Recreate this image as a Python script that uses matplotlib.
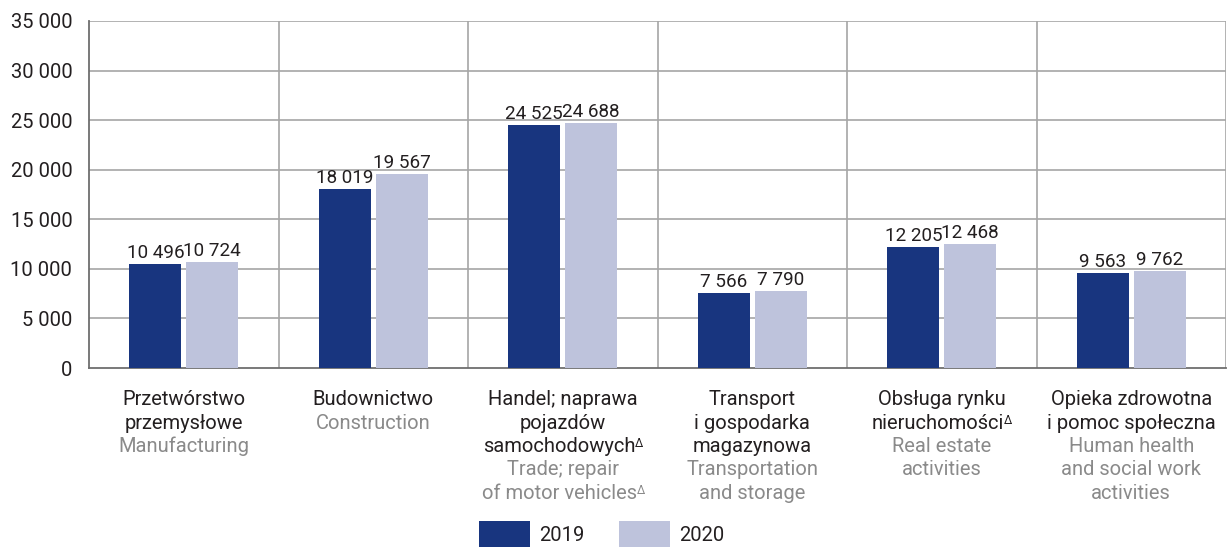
import matplotlib
matplotlib.use("Agg")
import matplotlib.pyplot as plt
import numpy as np

plt.rcParams['font.family'] = ['Roboto', 'DejaVu Sans']

# "*" marks a line that ends with a small superscript delta
labels_pl = [
    ["Przetwórstwo", "przemysłowe"],
    ["Budownictwo"],
    ["Handel; naprawa", "pojazdów", "samochodowych*"],
    ["Transport", "i gospodarka", "magazynowa"],
    ["Obsługa rynku", "nieruchomości*"],
    ["Opieka zdrowotna", "i pomoc społeczna"],
]
labels_en = [
    ["Manufacturing"],
    ["Construction"],
    ["Trade; repair", "of motor vehicles*"],
    ["Transportation", "and storage"],
    ["Real estate", "activities"],
    ["Human health", "and social work", "activities"],
]
values_2019 = [10496, 18019, 24525, 7566, 12205, 9563]
values_2020 = [10724, 19567, 24688, 7790, 12468, 9762]
years = ["2019", "2020"]

c2019 = "#18357f"
c2020 = "#bec3dc"
txt = "#231f20"
gray_txt = "#8a8a8a"
grid_c = "#a6a6a6"
fs = 14.5


def fmt(v):
    return f"{v:,}".replace(",", " ")


fig = plt.figure(figsize=(12.28, 5.47), dpi=100)
ax = fig.add_axes([89 / 1228, 1 - 368 / 547, (1226 - 89) / 1228, (368 - 21) / 547])

x = np.arange(len(labels_pl))
w = 0.275
off = 0.15
b1 = ax.bar(x - off, values_2019, w, color=c2019, label=years[0], zorder=3)
b2 = ax.bar(x + off, values_2020, w, color=c2020, label=years[1], zorder=3)

for bars, vals in ((b1, values_2019), (b2, values_2020)):
    for r, v in zip(bars, vals):
        ax.annotate(fmt(v), (r.get_x() + r.get_width() / 2, v), xytext=(0, 1.5),
                    textcoords="offset points", ha="center", va="bottom",
                    fontsize=13.6, color=txt, zorder=4)

ax.set_xlim(-0.5, len(labels_pl) - 0.5)
ax.set_ylim(0, 35000)
ax.set_yticks(np.arange(0, 35001, 5000))
ax.set_yticklabels([fmt(v) for v in range(0, 35001, 5000)], fontsize=fs, color=txt)
ax.tick_params(axis="y", length=0, pad=12)
ax.set_xticks([])
for yv in range(5000, 35001, 5000):
    ax.axhline(yv, color=grid_c, lw=1.2, zorder=1)
for xv in np.arange(0.5, len(labels_pl), 1.0):
    ax.axvline(xv, color=grid_c, lw=1.2, zorder=1)
for s in ["top", "right"]:
    ax.spines[s].set_visible(False)
ax.spines["left"].set_color("#6e6e6e")
ax.spines["bottom"].set_color("#6e6e6e")
ax.spines["left"].set_linewidth(1.3)
ax.spines["bottom"].set_linewidth(1.3)

line_h = 16.8  # points between baselines
first = 26.8   # first baseline below the axis, points
for i, (pl, en) in enumerate(zip(labels_pl, labels_en)):
    lines = [(t, txt) for t in pl] + [(t, gray_txt) for t in en]
    for k, (t, col) in enumerate(lines):
        sup = t.endswith("*")
        t = t.rstrip("*")
        t_art = ax.annotate(t, (i, 0), xycoords=("data", "axes fraction"),
                            xytext=(-2.5 if sup else 0, -first - k * line_h),
                            textcoords="offset points", ha="center", va="baseline",
                            fontsize=fs, color=col, annotation_clip=False)
        if sup:
            ax.annotate("Δ", (1, 1), xycoords=t_art, xytext=(-0.3, 0),
                        textcoords="offset points", ha="left", va="top",
                        fontsize=8.5, color=col, annotation_clip=False)

fig.legend(handles=[b1, b2], labels=years, loc="upper left",
           bbox_to_anchor=(479 / 1228, 1 - 521 / 547), frameon=False,
           ncol=2, fontsize=fs, handlelength=2.55, handleheight=1.7,
           handletextpad=0.45, columnspacing=1.7, borderpad=0, borderaxespad=0,
           labelcolor=txt)

fig.savefig("out.png", dpi=100)
